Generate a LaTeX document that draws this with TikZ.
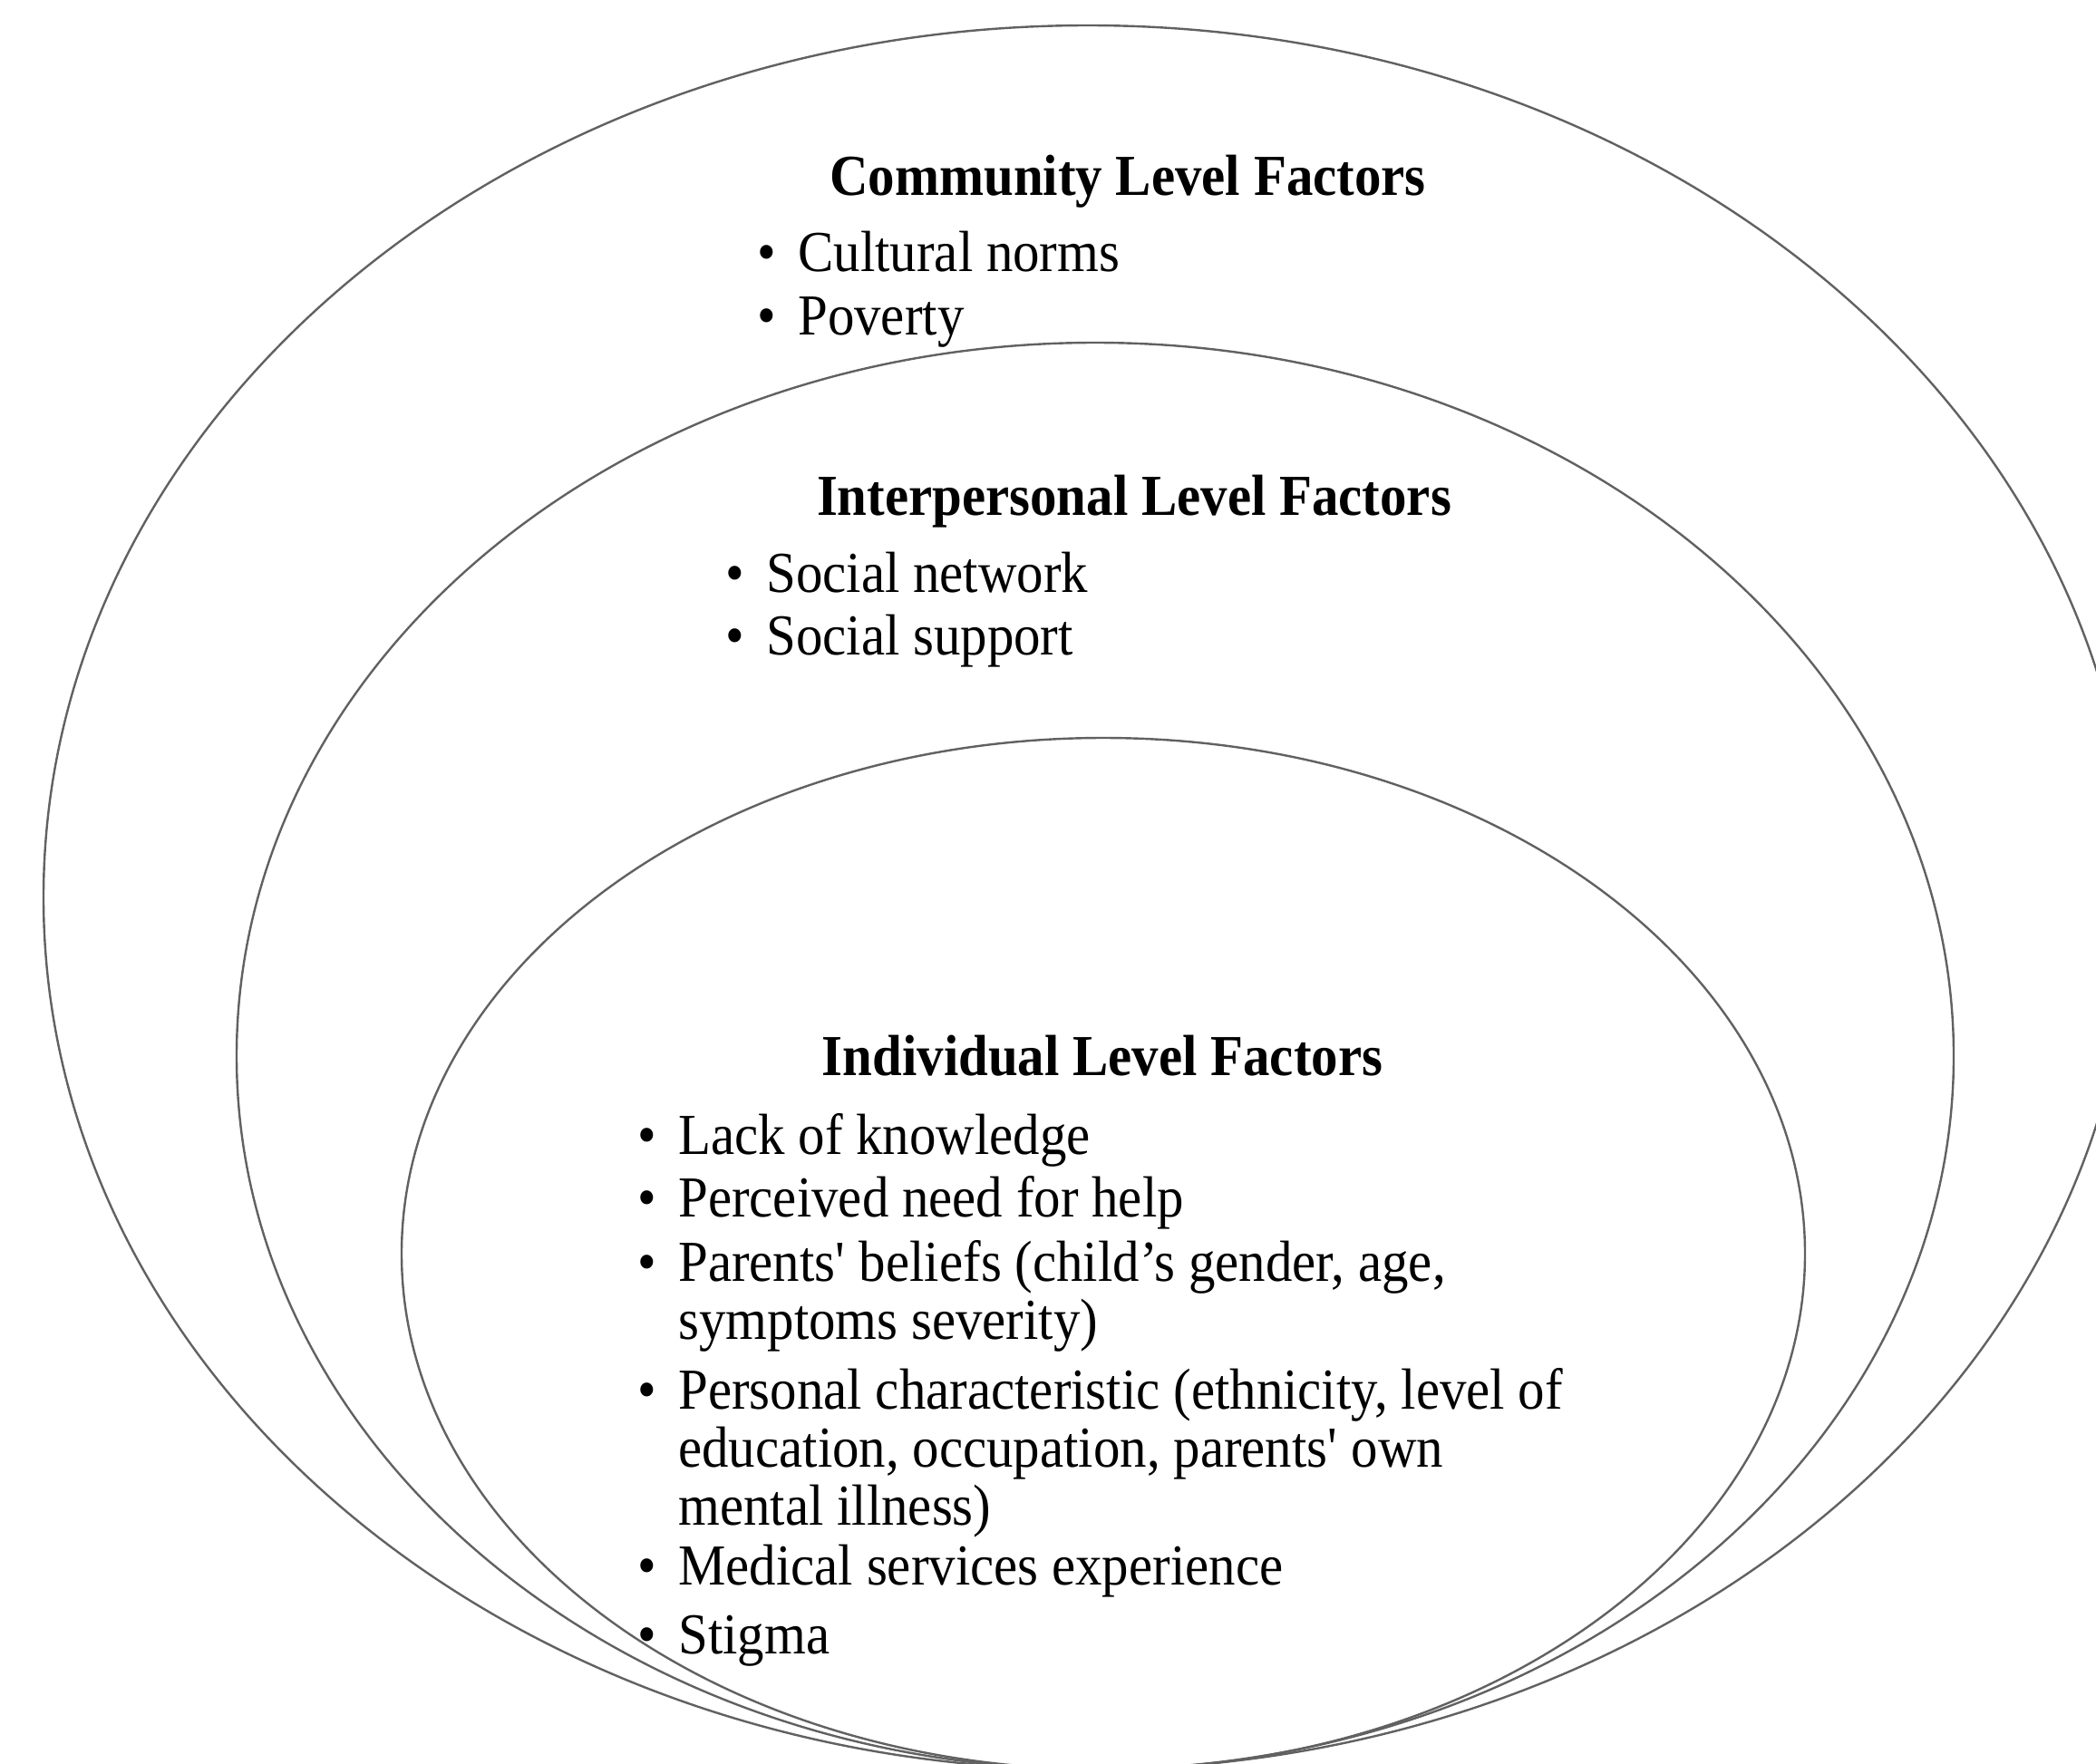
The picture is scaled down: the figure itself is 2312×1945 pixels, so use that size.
\documentclass[tikz,border=0pt]{standalone}
\usepackage{fontspec}
\setmainfont{Liberation Serif}[FakeStretch=0.92]
\newcommand\bulletlines[1]{\llap{\textbullet\hspace{12pt}}\begin{tabular}[t]{@{}l@{}}#1\end{tabular}}
\begin{document}
\begin{tikzpicture}[x=0.5pt,y=-0.5pt,
  ring/.style={draw=black!62, line width=1.2pt},
  heading/.style={anchor=base, font=\fontsize{32}{32}\selectfont\bfseries, inner sep=0pt},
  bulletitem/.style={anchor=base west, font=\fontsize{32}{32}\selectfont, inner sep=0pt, align=left}]
\useasboundingbox (0,0) rectangle (2312,1945);
% rings
\coordinate (outerc) at (1200,990);
\coordinate (middlec) at (1208,1165);
\coordinate (innerc) at (1217,1383);
\draw[ring] (outerc) ellipse [x radius=576pt, y radius=481pt];
\draw[ring] (middlec) ellipse [x radius=473.5pt, y radius=393.5pt];
\draw[ring] (innerc) ellipse [x radius=387pt, y radius=284.5pt];
% community
\node[heading] (chead) at (1244,215) {Community Level Factors};
\node[bulletitem] (c1) at (880,299) {\bulletlines{Cultural norms}};
\node[bulletitem] (c2) at (880,369) {\bulletlines{Poverty}};
% interpersonal
\node[heading] (phead) at (1251,568) {Interpersonal Level Factors};
\node[bulletitem] (p1) at (845,653) {\bulletlines{Social network}};
\node[bulletitem] (p2) at (845,722) {\bulletlines{Social support}};
% individual
\node[heading] (nhead) at (1216,1186) {Individual Level Factors};
\node[bulletitem] (n1) at (748,1273) {\bulletlines{Lack of knowledge}};
\node[bulletitem] (n2) at (748,1342) {\bulletlines{Perceived need for help}};
\node[bulletitem] (n3) at (748,1413) {\bulletlines{Parents\textquotesingle{} beliefs (child’s gender, age,\\symptoms severity)}};
\node[bulletitem] (n4) at (748,1554) {\bulletlines{Personal characteristic (ethnicity, level of\\education, occupation, parents\textquotesingle{} own\\mental illness)}};
\node[bulletitem] (n5) at (748,1748) {\bulletlines{Medical services experience}};
\node[bulletitem] (n6) at (748,1824) {\bulletlines{Stigma}};
\end{tikzpicture}
\end{document}
